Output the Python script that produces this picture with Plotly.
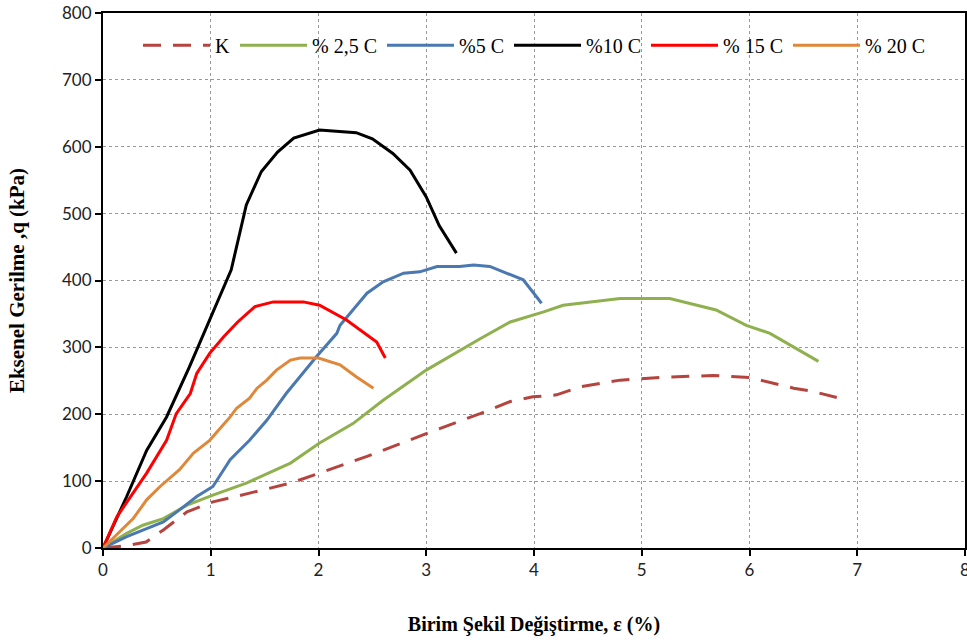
import plotly.graph_objects as go

# K (control)
k_x = [0, 0.2, 0.4, 0.56, 0.78, 1.02, 1.36, 1.74, 2.01, 2.45, 3.0, 3.5, 3.78, 3.99, 4.21, 4.43, 4.8, 5.17, 5.66, 6.0, 6.41, 6.59, 6.81]
k_y = [0, 3, 9, 27, 54, 69, 82, 97, 112, 137, 171, 201, 219, 226, 229, 241, 251, 255, 258, 255, 239, 234, 225]

# %2,5 C
c25_x = [0, 0.22, 0.37, 0.56, 0.78, 1.02, 1.33, 1.74, 2.01, 2.32, 2.6, 3.0, 3.5, 3.78, 4.09, 4.27, 4.8, 5.26, 5.69, 5.97, 6.19, 6.41, 6.64]
c25_y = [0, 22, 34, 44, 64, 79, 97, 127, 157, 186, 221, 266, 313, 338, 353, 363, 373, 373, 356, 333, 321, 301, 279]

# %5 C
c5_x = [0, 0.22, 0.405, 0.56, 0.71, 0.87, 1.02, 1.18, 1.36, 1.52, 1.70, 1.98, 2.17, 2.2, 2.45, 2.6, 2.79, 2.94, 3.1, 3.31, 3.44, 3.59, 3.9, 4.07]
c5_y = [0, 17, 29, 39, 57, 77, 92, 132, 161, 191, 231, 286, 321, 333, 381, 398, 411, 413, 421, 421, 423, 421, 401, 366]

# %10 C
c10_x = [0, 0.22, 0.405, 0.59, 0.8, 0.99, 1.19, 1.33, 1.47, 1.62, 1.77, 2.01, 2.35, 2.5, 2.69, 2.85, 3.0, 3.12, 3.28]
c10_y = [0, 77, 146, 196, 270, 341, 416, 513, 563, 592, 613, 625, 621, 612, 590, 565, 525, 482, 441]

# %15 C
c15_x = [0, 0.13, 0.405, 0.59, 0.68, 0.81, 0.87, 0.99, 1.12, 1.25, 1.41, 1.58, 1.86, 2.01, 2.26, 2.4, 2.54, 2.62]
c15_y = [0, 47, 112, 161, 201, 231, 261, 291, 316, 338, 361, 368, 368, 363, 341, 325, 308, 284]

# %20 C
c20_x = [0, 0.28, 0.405, 0.53, 0.71, 0.84, 0.99, 1.18, 1.24, 1.36, 1.43, 1.52, 1.61, 1.74, 1.83, 2.0, 2.2, 2.35, 2.51]
c20_y = [0, 44, 72, 92, 117, 142, 161, 196, 209, 224, 239, 251, 266, 281, 284, 284, 274, 256, 239]

names = ["K", "% 2,5 C", "%5 C", "%10 C", "% 15 C", "% 20 C"]
xs = [k_x, c25_x, c5_x, c10_x, c15_x, c20_x]
ys = [k_y, c25_y, c5_y, c10_y, c15_y, c20_y]
colors = ["#B5443F", "#8FB04F", "#4A78B0", "#000000", "#FF0000", "#E0883A"]
dashes = ["18px,12px", "solid", "solid", "solid", "solid", "solid"]

fig = go.Figure()
for n, x, y, c, d in zip(names, xs, ys, colors, dashes):
    fig.add_trace(go.Scatter(x=x, y=y, name=n, mode="lines",
                             line=dict(color=c, width=3, dash=d)))

fig.update_layout(
    width=967, height=643,
    margin=dict(l=103, r=2, t=13, b=95),
    plot_bgcolor="white", paper_bgcolor="white",
    showlegend=True,
    legend=dict(orientation="h", x=0.5, xanchor="center", y=0.976, yanchor="top",
                font=dict(family="Liberation Serif", size=20, color="black"),
                bgcolor="rgba(0,0,0,0)", itemwidth=67, tracegroupgap=0),
    xaxis=dict(range=[0, 8], dtick=1, showgrid=True, gridcolor="#999999", griddash="dot", gridwidth=1,
               showline=True, mirror=True, linecolor="black", linewidth=2,
               ticks="outside", ticklen=6, tickcolor="black", tickwidth=2,
               zeroline=False, automargin=False, ticklabeloverflow="allow",
               tickfont=dict(family="Lato", size=17, color="#222"),
               title=dict(text="Birim Şekil Değiştirme, ε (%)", standoff=38,
                          font=dict(family="Liberation Serif", size=20, color="black", weight="bold"))),
    yaxis=dict(range=[0, 800], dtick=100, showgrid=True, gridcolor="#999999", griddash="dot", gridwidth=1,
               showline=True, mirror=True, linecolor="black", linewidth=2,
               ticks="outside", ticklen=6, tickcolor="black", tickwidth=2,
               zeroline=False, automargin=False, ticklabeloverflow="allow",
               tickfont=dict(family="Lato", size=17, color="#222"),
               title=dict(text="Eksenel Gerilme ,q (kPa)", standoff=32,
                          font=dict(family="Liberation Serif", size=21, color="black", weight="bold"))),
)

fig.write_html("out.html", config={"displayModeBar": False},
               post_script="document.body.style.margin='0';")
